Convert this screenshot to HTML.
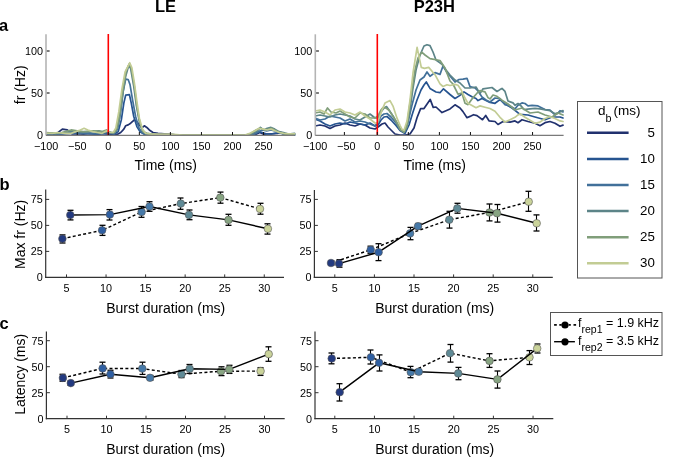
<!DOCTYPE html>
<html><head><meta charset="utf-8"><style>
html,body{margin:0;padding:0;background:#fff;width:685px;height:457px;overflow:hidden}
svg{display:block;will-change:transform}
text{font-family:"Liberation Sans",sans-serif}
</style></head><body>
<svg width="685" height="457" viewBox="0 0 685 457">
<rect width="685" height="457" fill="#fff"/>
<text x="165.50" y="11.80" font-size="16.5" text-anchor="middle" font-weight="bold" fill="#000" >LE</text>
<text x="434.30" y="11.80" font-size="16.5" text-anchor="middle" font-weight="bold" fill="#000" >P23H</text>
<text x="-1.00" y="31.00" font-size="16.5" text-anchor="start" font-weight="bold" fill="#000" >a</text>
<text x="-0.50" y="189.50" font-size="16.5" text-anchor="start" font-weight="bold" fill="#000" >b</text>
<text x="-0.50" y="329.00" font-size="16.5" text-anchor="start" font-weight="bold" fill="#000" >c</text>
<clipPath id="ca1"><rect x="46" y="30" width="250" height="106"/></clipPath>
<clipPath id="ca2"><rect x="315" y="30" width="249" height="106"/></clipPath>
<g clip-path="url(#ca1)">
<polyline points="46.20,134.16 52.41,134.16 56.14,133.99 62.35,129.12 67.31,129.96 72.28,133.99 77.25,133.74 83.46,134.16 89.67,133.32 95.88,134.16 102.09,133.32 108.30,134.16 114.51,135.00 117.61,134.16 120.72,132.48 123.83,129.12 125.69,125.76 128.17,124.92 130.66,123.24 134.38,119.88 137.49,122.40 140.59,126.60 142.45,127.44 144.32,125.76 146.80,127.44 149.29,129.96 153.01,132.48 157.98,133.32 164.19,133.74 170.40,134.16 176.61,135.00 232.50,135.00 251.13,135.00 256.10,134.16 259.82,132.48 263.55,134.16 268.52,134.16 272.87,133.74 277.21,133.32 280.94,132.48 284.66,134.16 294.60,135.00" fill="none" stroke="#21316e" stroke-width="1.7" stroke-linejoin="round" stroke-linecap="round" />
<polyline points="46.20,134.16 58.62,134.16 71.04,133.32 83.46,133.32 95.88,134.16 108.30,133.32 114.51,134.16 118.24,131.64 121.34,119.88 123.83,103.08 125.69,95.10 129.41,94.68 131.28,103.08 133.76,116.52 136.87,126.60 139.97,131.64 144.32,134.16 148.66,134.16 154.88,135.00 232.50,135.00 251.13,135.00 254.86,133.32 259.20,131.64 262.31,132.48 266.65,134.16 271.00,134.16 274.73,133.32 279.07,132.48 283.42,133.32 288.39,135.00 294.60,135.00" fill="none" stroke="#265490" stroke-width="1.7" stroke-linejoin="round" stroke-linecap="round" />
<polyline points="46.20,133.32 58.62,134.16 71.04,132.48 83.46,133.32 95.88,133.32 108.30,132.48 114.51,133.32 117.61,129.12 120.72,111.48 123.20,91.32 125.69,79.14 128.17,79.56 130.03,84.60 132.52,99.72 135.62,116.52 138.73,127.44 141.83,132.48 145.56,134.16 151.77,135.00 232.50,135.00 248.02,135.00 254.24,134.16 258.58,131.64 262.31,129.96 266.65,130.80 271.00,129.96 274.73,130.80 279.07,132.48 283.42,134.16 294.60,134.16" fill="none" stroke="#41709a" stroke-width="1.7" stroke-linejoin="round" stroke-linecap="round" />
<polyline points="46.20,133.32 55.52,133.32 64.83,132.48 74.14,130.80 80.35,132.48 89.67,131.64 98.98,130.80 105.19,132.48 108.30,131.64 113.27,133.32 116.37,130.80 119.48,118.20 122.58,94.68 125.69,76.20 128.79,65.28 130.66,68.64 133.76,86.28 136.25,104.76 139.35,121.56 142.45,130.80 145.56,133.32 151.77,134.16 157.98,135.00 232.50,135.00 248.02,135.00 252.99,133.32 257.34,130.80 260.44,127.44 263.55,129.96 267.28,128.28 271.00,127.44 274.73,129.12 279.07,131.64 283.42,132.48 288.39,134.16 294.60,133.32" fill="none" stroke="#5c8488" stroke-width="1.7" stroke-linejoin="round" stroke-linecap="round" />
<polyline points="46.20,132.48 55.52,133.32 61.72,132.48 71.04,129.96 77.25,130.80 83.46,131.64 92.77,130.80 102.09,131.64 106.44,129.96 110.16,132.48 114.51,132.48 116.99,128.28 120.10,111.48 123.20,87.96 126.31,70.32 129.41,63.60 131.28,68.64 134.38,86.28 136.87,106.44 139.97,123.24 143.08,131.64 146.80,133.32 153.01,134.16 161.08,135.00 232.50,135.00 246.16,135.00 251.13,133.32 256.10,129.96 259.82,128.28 264.79,129.96 268.52,129.12 271.62,128.28 275.97,130.80 280.32,132.48 285.28,134.16 294.60,134.16" fill="none" stroke="#809e7a" stroke-width="1.7" stroke-linejoin="round" stroke-linecap="round" />
<polyline points="46.20,133.32 52.41,133.32 57.38,132.48 64.83,133.32 71.04,133.32 76.01,131.64 80.35,129.96 84.08,128.28 87.81,129.96 92.77,131.64 97.12,132.48 102.09,133.32 105.19,131.64 107.06,130.80 109.54,132.48 113.27,132.48 115.75,128.28 118.86,111.48 121.96,88.80 125.07,72.00 129.72,62.76 131.90,67.80 134.38,82.92 136.87,101.40 139.35,118.20 142.45,129.12 145.56,133.32 151.77,134.16 161.08,134.16 170.40,134.16 182.82,135.00 232.50,135.00 244.92,135.00 249.89,133.32 254.86,130.80 259.20,128.28 263.55,129.12 267.28,129.96 271.00,129.12 274.73,130.80 279.07,132.48 283.42,133.32 288.39,133.74 294.60,133.74" fill="none" stroke="#c2cc94" stroke-width="1.7" stroke-linejoin="round" stroke-linecap="round" />
</g>
<g clip-path="url(#ca2)">
<polyline points="315.00,126.00 320.00,125.00 325.00,126.00 330.00,128.50 335.00,126.00 340.00,125.00 345.00,123.00 350.00,125.00 355.00,126.00 360.00,124.00 365.00,125.00 370.00,128.00 375.00,129.00 378.00,127.00 382.00,124.00 385.00,123.00 388.00,127.00 392.00,131.00 395.00,134.00 400.00,135.00 405.00,135.00 410.00,134.00 414.00,128.00 417.00,117.80 420.60,108.60 424.00,108.60 430.20,99.40 433.20,107.40 436.00,107.00 442.00,112.60 450.00,108.90 455.00,104.80 460.00,108.00 463.00,111.60 467.00,117.70 470.00,116.40 473.50,114.70 477.00,115.60 482.50,119.70 485.70,115.50 489.00,120.80 495.00,121.50 498.00,124.50 503.00,121.50 510.00,122.10 515.00,120.90 518.00,122.70 522.00,119.70 528.00,121.50 535.00,123.30 540.00,125.70 545.00,122.70 550.00,121.50 555.00,123.30 560.00,126.30 563.00,125.10" fill="none" stroke="#21316e" stroke-width="1.7" stroke-linejoin="round" stroke-linecap="round" />
<polyline points="315.00,119.00 320.00,121.00 325.00,124.00 330.00,126.00 335.00,124.00 340.00,123.00 345.00,124.00 350.00,122.00 355.00,123.00 360.00,124.00 365.00,125.00 370.00,123.00 375.00,126.00 378.00,125.00 381.00,120.00 384.00,117.00 387.00,116.50 391.00,120.00 396.00,125.50 400.00,130.50 405.00,133.50 409.00,125.00 413.00,112.00 417.00,100.00 421.00,90.00 424.00,85.00 426.30,82.00 430.00,88.40 436.00,92.00 440.00,92.70 443.50,88.80 450.00,94.50 455.00,98.50 460.00,95.40 464.00,91.90 468.00,94.50 472.00,96.70 476.00,98.50 478.00,100.60 482.00,98.50 490.00,102.40 495.00,103.30 500.00,99.60 505.00,104.00 512.00,108.00 520.00,114.30 528.00,115.00 535.00,117.00 545.00,119.80 552.00,117.00 560.00,117.00 563.00,118.00" fill="none" stroke="#265490" stroke-width="1.7" stroke-linejoin="round" stroke-linecap="round" />
<polyline points="315.00,118.00 320.00,120.00 325.00,119.00 330.00,116.00 335.00,117.00 340.00,118.00 345.00,121.00 350.00,119.00 355.00,122.00 360.00,121.00 365.00,122.00 370.00,124.00 375.00,126.00 378.00,122.00 381.00,116.00 384.00,114.00 387.00,113.50 391.00,117.00 396.00,123.00 400.00,129.00 404.00,132.00 408.00,122.00 412.00,105.00 416.00,90.00 420.00,80.00 424.00,77.00 427.00,72.00 430.00,76.30 435.00,72.60 440.00,74.40 443.00,66.00 447.00,72.60 450.00,76.00 455.00,82.00 459.00,79.50 463.00,79.20 467.00,78.30 470.00,86.60 475.00,88.00 478.00,91.00 482.00,97.00 486.00,100.00 490.00,102.00 495.00,98.00 500.00,98.70 505.00,104.70 510.00,105.90 515.00,108.90 518.00,105.30 522.00,102.90 525.00,103.50 528.00,105.90 532.00,105.30 538.00,105.90 545.00,109.50 550.00,110.10 555.00,114.90 558.00,113.10 560.00,110.70 563.00,111.90" fill="none" stroke="#41709a" stroke-width="1.7" stroke-linejoin="round" stroke-linecap="round" />
<polyline points="315.00,116.00 320.00,115.00 325.00,116.00 330.00,117.00 335.00,115.00 340.00,114.00 345.00,115.00 350.00,116.00 355.00,119.00 360.00,120.00 365.00,117.00 370.00,114.00 375.00,118.00 378.00,118.00 381.00,112.00 384.00,108.00 386.50,106.60 389.00,110.00 393.00,116.00 397.00,123.00 400.00,129.00 404.00,132.00 407.00,127.00 410.00,110.00 413.00,88.00 416.00,70.00 420.00,55.00 424.00,46.00 427.00,44.70 430.00,45.60 433.00,52.00 436.00,60.00 442.00,64.20 446.00,70.00 450.00,75.00 455.00,80.00 460.00,83.00 465.00,88.00 470.00,88.00 476.00,87.00 480.00,93.60 483.00,88.80 492.00,87.50 497.00,91.50 500.00,89.60 502.00,88.40 505.00,91.40 508.00,101.00 513.00,102.90 515.00,105.30 518.00,103.50 521.00,105.90 524.00,109.50 530.00,108.90 535.00,108.30 540.00,108.90 550.00,110.70 555.00,113.70 560.00,112.00 563.00,110.60" fill="none" stroke="#5c8488" stroke-width="1.7" stroke-linejoin="round" stroke-linecap="round" />
<polyline points="315.00,113.00 320.00,112.00 324.00,114.00 327.50,108.00 331.00,112.00 336.00,113.00 340.00,111.00 345.00,114.00 350.00,117.00 355.00,118.00 360.00,113.00 365.00,114.00 370.00,118.00 375.00,118.00 378.00,116.00 381.00,110.00 383.00,107.60 386.00,108.00 389.00,110.20 393.00,116.20 397.00,123.20 400.00,129.30 404.00,132.30 407.00,126.00 409.00,110.00 412.00,90.00 415.00,70.00 418.00,58.00 421.70,52.20 425.00,55.00 430.00,58.60 440.00,60.50 445.00,68.00 450.00,81.00 453.00,84.00 458.00,94.10 462.00,93.20 465.00,103.30 468.00,104.60 472.00,98.90 477.00,93.20 480.00,90.60 485.00,91.90 488.00,97.60 490.00,98.90 493.00,95.00 497.00,96.30 502.00,100.20 508.00,104.00 515.00,110.00 522.00,108.00 530.00,113.00 538.00,112.00 545.00,115.00 552.00,117.00 558.00,113.00 563.00,115.00" fill="none" stroke="#809e7a" stroke-width="1.7" stroke-linejoin="round" stroke-linecap="round" />
<polyline points="315.00,111.00 320.00,110.00 325.00,112.00 330.00,115.00 335.00,110.00 340.00,109.00 345.00,112.00 350.00,113.00 355.00,115.00 360.00,112.00 365.00,116.00 370.00,119.00 375.00,123.00 377.30,123.20 382.00,110.20 385.00,103.10 390.00,100.60 393.00,106.10 397.00,118.20 400.00,125.30 402.00,129.30 404.00,130.30 407.00,121.00 410.00,100.00 413.00,73.00 417.10,47.40 421.30,67.40 424.50,68.40 428.70,67.40 435.00,74.70 440.00,83.80 443.00,86.50 447.00,84.70 450.00,85.50 455.00,84.40 458.00,85.30 461.00,89.70 465.00,98.00 468.00,103.30 472.00,105.50 476.00,107.70 480.00,105.90 485.00,107.20 490.00,108.50 495.00,111.30 500.00,117.30 505.00,122.10 510.00,119.70 515.00,117.30 518.00,114.90 520.00,113.70 525.00,117.30 530.00,120.30 535.00,123.30 540.00,122.10 545.00,118.50 550.00,116.70 555.00,118.50 560.00,120.90 563.00,121.50" fill="none" stroke="#c2cc94" stroke-width="1.7" stroke-linejoin="round" stroke-linecap="round" />
</g>
<line x1="108.30" y1="34.00" x2="108.30" y2="135.00" stroke="#ff0000" stroke-width="1.6" />
<line x1="377.30" y1="34.00" x2="377.30" y2="135.00" stroke="#ff0000" stroke-width="1.6" />
<line x1="46.00" y1="34.30" x2="46.00" y2="135.50" stroke="#b4b4b4" stroke-width="1.6" />
<line x1="46.00" y1="135.30" x2="294.80" y2="135.30" stroke="#7a7a7a" stroke-width="1.2" />
<text x="43.00" y="138.80" font-size="10.8" text-anchor="end" font-weight="normal" fill="#000" >0</text>
<line x1="46.80" y1="93.00" x2="49.60" y2="93.00" stroke="#222" stroke-width="1.2" />
<text x="43.00" y="96.80" font-size="10.8" text-anchor="end" font-weight="normal" fill="#000" >50</text>
<line x1="46.80" y1="51.00" x2="49.60" y2="51.00" stroke="#222" stroke-width="1.2" />
<text x="43.00" y="54.80" font-size="10.8" text-anchor="end" font-weight="normal" fill="#000" >100</text>
<text x="46.20" y="150.00" font-size="10.8" text-anchor="middle" font-weight="normal" fill="#000" >−100</text>
<line x1="77.25" y1="135.00" x2="77.25" y2="132.00" stroke="#111" stroke-width="1" />
<text x="77.25" y="150.00" font-size="10.8" text-anchor="middle" font-weight="normal" fill="#000" >−50</text>
<line x1="108.30" y1="135.00" x2="108.30" y2="132.00" stroke="#111" stroke-width="1" />
<text x="108.30" y="150.00" font-size="10.8" text-anchor="middle" font-weight="normal" fill="#000" >0</text>
<line x1="139.35" y1="135.00" x2="139.35" y2="132.00" stroke="#111" stroke-width="1" />
<text x="139.35" y="150.00" font-size="10.8" text-anchor="middle" font-weight="normal" fill="#000" >50</text>
<line x1="170.40" y1="135.00" x2="170.40" y2="132.00" stroke="#111" stroke-width="1" />
<text x="170.40" y="150.00" font-size="10.8" text-anchor="middle" font-weight="normal" fill="#000" >100</text>
<line x1="201.45" y1="135.00" x2="201.45" y2="132.00" stroke="#111" stroke-width="1" />
<text x="201.45" y="150.00" font-size="10.8" text-anchor="middle" font-weight="normal" fill="#000" >150</text>
<line x1="232.50" y1="135.00" x2="232.50" y2="132.00" stroke="#111" stroke-width="1" />
<text x="232.50" y="150.00" font-size="10.8" text-anchor="middle" font-weight="normal" fill="#000" >200</text>
<line x1="263.55" y1="135.00" x2="263.55" y2="132.00" stroke="#111" stroke-width="1" />
<text x="263.55" y="150.00" font-size="10.8" text-anchor="middle" font-weight="normal" fill="#000" >250</text>
<text x="165.80" y="169.80" font-size="14" text-anchor="middle" font-weight="normal" fill="#000" >Time (ms)</text>
<line x1="315.30" y1="34.30" x2="315.30" y2="135.50" stroke="#b4b4b4" stroke-width="1.6" />
<line x1="315.30" y1="135.30" x2="563.60" y2="135.30" stroke="#7a7a7a" stroke-width="1.2" />
<text x="312.30" y="138.80" font-size="10.8" text-anchor="end" font-weight="normal" fill="#000" >0</text>
<line x1="316.10" y1="93.00" x2="318.90" y2="93.00" stroke="#222" stroke-width="1.2" />
<text x="312.30" y="96.80" font-size="10.8" text-anchor="end" font-weight="normal" fill="#000" >50</text>
<line x1="316.10" y1="51.00" x2="318.90" y2="51.00" stroke="#222" stroke-width="1.2" />
<text x="312.30" y="54.80" font-size="10.8" text-anchor="end" font-weight="normal" fill="#000" >100</text>
<text x="315.20" y="150.00" font-size="10.8" text-anchor="middle" font-weight="normal" fill="#000" >−100</text>
<line x1="344.40" y1="135.00" x2="344.40" y2="132.00" stroke="#111" stroke-width="1" />
<text x="346.25" y="150.00" font-size="10.8" text-anchor="middle" font-weight="normal" fill="#000" >−50</text>
<line x1="377.30" y1="135.00" x2="377.30" y2="132.00" stroke="#111" stroke-width="1" />
<text x="377.30" y="150.00" font-size="10.8" text-anchor="middle" font-weight="normal" fill="#000" >0</text>
<line x1="408.35" y1="135.00" x2="408.35" y2="132.00" stroke="#111" stroke-width="1" />
<text x="408.35" y="150.00" font-size="10.8" text-anchor="middle" font-weight="normal" fill="#000" >50</text>
<line x1="439.40" y1="135.00" x2="439.40" y2="132.00" stroke="#111" stroke-width="1" />
<text x="439.40" y="150.00" font-size="10.8" text-anchor="middle" font-weight="normal" fill="#000" >100</text>
<line x1="470.45" y1="135.00" x2="470.45" y2="132.00" stroke="#111" stroke-width="1" />
<text x="470.45" y="150.00" font-size="10.8" text-anchor="middle" font-weight="normal" fill="#000" >150</text>
<line x1="501.50" y1="135.00" x2="501.50" y2="132.00" stroke="#111" stroke-width="1" />
<text x="501.50" y="150.00" font-size="10.8" text-anchor="middle" font-weight="normal" fill="#000" >200</text>
<line x1="532.55" y1="135.00" x2="532.55" y2="132.00" stroke="#111" stroke-width="1" />
<text x="532.55" y="150.00" font-size="10.8" text-anchor="middle" font-weight="normal" fill="#000" >250</text>
<text x="434.70" y="169.80" font-size="14" text-anchor="middle" font-weight="normal" fill="#000" >Time (ms)</text>
<text transform="translate(24.5,84.8) rotate(-90)" font-size="14" text-anchor="middle">fr (Hz)</text>
<rect x="577.5" y="101.5" width="84.5" height="176.5" fill="#fff" stroke="#555" stroke-width="1"/>
<text x="598" y="114.8" font-size="13.5">d<tspan dy="7.3" font-size="10.8">b</tspan></text><text x="613.5" y="114.8" font-size="13.5">(ms)</text>
<line x1="587.00" y1="132.80" x2="628.60" y2="132.80" stroke="#21316e" stroke-width="2.5" />
<text x="654.80" y="136.50" font-size="13.3" text-anchor="end" font-weight="normal" fill="#000" >5</text>
<line x1="587.00" y1="158.90" x2="628.60" y2="158.90" stroke="#265490" stroke-width="2.5" />
<text x="654.80" y="162.60" font-size="13.3" text-anchor="end" font-weight="normal" fill="#000" >10</text>
<line x1="587.00" y1="185.00" x2="628.60" y2="185.00" stroke="#41709a" stroke-width="2.5" />
<text x="654.80" y="188.70" font-size="13.3" text-anchor="end" font-weight="normal" fill="#000" >15</text>
<line x1="587.00" y1="211.10" x2="628.60" y2="211.10" stroke="#5c8488" stroke-width="2.5" />
<text x="654.80" y="214.80" font-size="13.3" text-anchor="end" font-weight="normal" fill="#000" >20</text>
<line x1="587.00" y1="237.20" x2="628.60" y2="237.20" stroke="#809e7a" stroke-width="2.5" />
<text x="654.80" y="240.90" font-size="13.3" text-anchor="end" font-weight="normal" fill="#000" >25</text>
<line x1="587.00" y1="263.30" x2="628.60" y2="263.30" stroke="#c2cc94" stroke-width="2.5" />
<text x="654.80" y="267.00" font-size="13.3" text-anchor="end" font-weight="normal" fill="#000" >30</text>
<line x1="45.70" y1="189.60" x2="45.70" y2="278.00" stroke="#333" stroke-width="1.2" />
<line x1="45.10" y1="277.40" x2="284.00" y2="277.40" stroke="#333" stroke-width="1.2" />
<text x="42.70" y="281.20" font-size="10.8" text-anchor="end" font-weight="normal" fill="#000" >0</text>
<line x1="45.70" y1="251.40" x2="49.20" y2="251.40" stroke="#333" stroke-width="1" />
<text x="42.70" y="255.20" font-size="10.8" text-anchor="end" font-weight="normal" fill="#000" >25</text>
<line x1="45.70" y1="225.40" x2="49.20" y2="225.40" stroke="#333" stroke-width="1" />
<text x="42.70" y="229.20" font-size="10.8" text-anchor="end" font-weight="normal" fill="#000" >50</text>
<line x1="45.70" y1="199.40" x2="49.20" y2="199.40" stroke="#333" stroke-width="1" />
<text x="42.70" y="203.20" font-size="10.8" text-anchor="end" font-weight="normal" fill="#000" >75</text>
<line x1="66.50" y1="277.40" x2="66.50" y2="274.40" stroke="#333" stroke-width="1" />
<text x="66.50" y="292.00" font-size="10.8" text-anchor="middle" font-weight="normal" fill="#000" >5</text>
<line x1="106.05" y1="277.40" x2="106.05" y2="274.40" stroke="#333" stroke-width="1" />
<text x="106.05" y="292.00" font-size="10.8" text-anchor="middle" font-weight="normal" fill="#000" >10</text>
<line x1="145.60" y1="277.40" x2="145.60" y2="274.40" stroke="#333" stroke-width="1" />
<text x="145.60" y="292.00" font-size="10.8" text-anchor="middle" font-weight="normal" fill="#000" >15</text>
<line x1="185.15" y1="277.40" x2="185.15" y2="274.40" stroke="#333" stroke-width="1" />
<text x="185.15" y="292.00" font-size="10.8" text-anchor="middle" font-weight="normal" fill="#000" >20</text>
<line x1="224.70" y1="277.40" x2="224.70" y2="274.40" stroke="#333" stroke-width="1" />
<text x="224.70" y="292.00" font-size="10.8" text-anchor="middle" font-weight="normal" fill="#000" >25</text>
<line x1="264.25" y1="277.40" x2="264.25" y2="274.40" stroke="#333" stroke-width="1" />
<text x="264.25" y="292.00" font-size="10.8" text-anchor="middle" font-weight="normal" fill="#000" >30</text>
<text x="165.70" y="313.00" font-size="14" text-anchor="middle" font-weight="normal" fill="#000" >Burst duration (ms)</text>
<polyline points="62.40,238.70 102.10,230.30 141.60,212.00 180.80,203.60 220.30,197.60 260.00,208.90" fill="none" stroke="#000" stroke-width="1.45" stroke-linejoin="round" stroke-linecap="butt" stroke-dasharray="3,2.3"/>
<line x1="62.50" y1="234.90" x2="62.50" y2="243.00" stroke="#000" stroke-width="1.1" />
<line x1="59.50" y1="234.90" x2="65.50" y2="234.90" stroke="#000" stroke-width="1.3" />
<line x1="59.50" y1="243.00" x2="65.50" y2="243.00" stroke="#000" stroke-width="1.3" />
<circle cx="62.40" cy="238.70" r="3.8" fill="#233a80" stroke="#555" stroke-width="0.6"/>
<line x1="102.50" y1="225.30" x2="102.50" y2="235.40" stroke="#000" stroke-width="1.1" />
<line x1="99.50" y1="225.30" x2="105.50" y2="225.30" stroke="#000" stroke-width="1.3" />
<line x1="99.50" y1="235.40" x2="105.50" y2="235.40" stroke="#000" stroke-width="1.3" />
<circle cx="102.10" cy="230.30" r="3.8" fill="#2f5fa2" stroke="#555" stroke-width="0.6"/>
<line x1="141.50" y1="206.50" x2="141.50" y2="217.30" stroke="#000" stroke-width="1.1" />
<line x1="138.50" y1="206.50" x2="144.50" y2="206.50" stroke="#000" stroke-width="1.3" />
<line x1="138.50" y1="217.30" x2="144.50" y2="217.30" stroke="#000" stroke-width="1.3" />
<circle cx="141.60" cy="212.00" r="3.8" fill="#4679a8" stroke="#555" stroke-width="0.6"/>
<line x1="180.50" y1="198.00" x2="180.50" y2="209.30" stroke="#000" stroke-width="1.1" />
<line x1="177.50" y1="198.00" x2="183.50" y2="198.00" stroke="#000" stroke-width="1.3" />
<line x1="177.50" y1="209.30" x2="183.50" y2="209.30" stroke="#000" stroke-width="1.3" />
<circle cx="180.80" cy="203.60" r="3.8" fill="#5f8a96" stroke="#555" stroke-width="0.6"/>
<line x1="220.50" y1="192.10" x2="220.50" y2="203.20" stroke="#000" stroke-width="1.1" />
<line x1="217.50" y1="192.10" x2="223.50" y2="192.10" stroke="#000" stroke-width="1.3" />
<line x1="217.50" y1="203.20" x2="223.50" y2="203.20" stroke="#000" stroke-width="1.3" />
<circle cx="220.30" cy="197.60" r="3.8" fill="#87a482" stroke="#555" stroke-width="0.6"/>
<line x1="260.50" y1="203.30" x2="260.50" y2="214.20" stroke="#000" stroke-width="1.1" />
<line x1="257.50" y1="203.30" x2="263.50" y2="203.30" stroke="#000" stroke-width="1.3" />
<line x1="257.50" y1="214.20" x2="263.50" y2="214.20" stroke="#000" stroke-width="1.3" />
<circle cx="260.00" cy="208.90" r="3.8" fill="#cad39a" stroke="#555" stroke-width="0.6"/>
<polyline points="70.30,215.00 109.90,214.60 149.50,206.50 189.00,214.90 228.50,219.90 267.90,228.80" fill="none" stroke="#000" stroke-width="1.45" stroke-linejoin="round" stroke-linecap="round" />
<line x1="70.50" y1="210.30" x2="70.50" y2="219.90" stroke="#000" stroke-width="1.1" />
<line x1="67.50" y1="210.30" x2="73.50" y2="210.30" stroke="#000" stroke-width="1.3" />
<line x1="67.50" y1="219.90" x2="73.50" y2="219.90" stroke="#000" stroke-width="1.3" />
<circle cx="70.30" cy="215.00" r="3.8" fill="#233a80" stroke="#555" stroke-width="0.6"/>
<line x1="109.50" y1="209.60" x2="109.50" y2="220.00" stroke="#000" stroke-width="1.1" />
<line x1="106.50" y1="209.60" x2="112.50" y2="209.60" stroke="#000" stroke-width="1.3" />
<line x1="106.50" y1="220.00" x2="112.50" y2="220.00" stroke="#000" stroke-width="1.3" />
<circle cx="109.90" cy="214.60" r="3.8" fill="#2f5fa2" stroke="#555" stroke-width="0.6"/>
<line x1="149.50" y1="201.70" x2="149.50" y2="211.30" stroke="#000" stroke-width="1.1" />
<line x1="146.50" y1="201.70" x2="152.50" y2="201.70" stroke="#000" stroke-width="1.3" />
<line x1="146.50" y1="211.30" x2="152.50" y2="211.30" stroke="#000" stroke-width="1.3" />
<circle cx="149.50" cy="206.50" r="3.8" fill="#4679a8" stroke="#555" stroke-width="0.6"/>
<line x1="189.50" y1="210.00" x2="189.50" y2="219.70" stroke="#000" stroke-width="1.1" />
<line x1="186.50" y1="210.00" x2="192.50" y2="210.00" stroke="#000" stroke-width="1.3" />
<line x1="186.50" y1="219.70" x2="192.50" y2="219.70" stroke="#000" stroke-width="1.3" />
<circle cx="189.00" cy="214.90" r="3.8" fill="#5f8a96" stroke="#555" stroke-width="0.6"/>
<line x1="228.50" y1="214.30" x2="228.50" y2="225.30" stroke="#000" stroke-width="1.1" />
<line x1="225.50" y1="214.30" x2="231.50" y2="214.30" stroke="#000" stroke-width="1.3" />
<line x1="225.50" y1="225.30" x2="231.50" y2="225.30" stroke="#000" stroke-width="1.3" />
<circle cx="228.50" cy="219.90" r="3.8" fill="#87a482" stroke="#555" stroke-width="0.6"/>
<line x1="267.50" y1="223.80" x2="267.50" y2="234.10" stroke="#000" stroke-width="1.1" />
<line x1="264.50" y1="223.80" x2="270.50" y2="223.80" stroke="#000" stroke-width="1.3" />
<line x1="264.50" y1="234.10" x2="270.50" y2="234.10" stroke="#000" stroke-width="1.3" />
<circle cx="267.90" cy="228.80" r="3.8" fill="#cad39a" stroke="#555" stroke-width="0.6"/>
<line x1="314.40" y1="190.00" x2="314.40" y2="278.00" stroke="#333" stroke-width="1.2" />
<line x1="313.80" y1="277.40" x2="552.80" y2="277.40" stroke="#333" stroke-width="1.2" />
<text x="311.40" y="281.20" font-size="10.8" text-anchor="end" font-weight="normal" fill="#000" >0</text>
<line x1="314.40" y1="251.40" x2="317.90" y2="251.40" stroke="#333" stroke-width="1" />
<text x="311.40" y="255.20" font-size="10.8" text-anchor="end" font-weight="normal" fill="#000" >25</text>
<line x1="314.40" y1="225.40" x2="317.90" y2="225.40" stroke="#333" stroke-width="1" />
<text x="311.40" y="229.20" font-size="10.8" text-anchor="end" font-weight="normal" fill="#000" >50</text>
<line x1="314.40" y1="199.40" x2="317.90" y2="199.40" stroke="#333" stroke-width="1" />
<text x="311.40" y="203.20" font-size="10.8" text-anchor="end" font-weight="normal" fill="#000" >75</text>
<line x1="334.80" y1="277.40" x2="334.80" y2="274.40" stroke="#333" stroke-width="1" />
<text x="334.80" y="292.00" font-size="10.8" text-anchor="middle" font-weight="normal" fill="#000" >5</text>
<line x1="374.40" y1="277.40" x2="374.40" y2="274.40" stroke="#333" stroke-width="1" />
<text x="374.40" y="292.00" font-size="10.8" text-anchor="middle" font-weight="normal" fill="#000" >10</text>
<line x1="414.00" y1="277.40" x2="414.00" y2="274.40" stroke="#333" stroke-width="1" />
<text x="414.00" y="292.00" font-size="10.8" text-anchor="middle" font-weight="normal" fill="#000" >15</text>
<line x1="453.60" y1="277.40" x2="453.60" y2="274.40" stroke="#333" stroke-width="1" />
<text x="453.60" y="292.00" font-size="10.8" text-anchor="middle" font-weight="normal" fill="#000" >20</text>
<line x1="493.20" y1="277.40" x2="493.20" y2="274.40" stroke="#333" stroke-width="1" />
<text x="493.20" y="292.00" font-size="10.8" text-anchor="middle" font-weight="normal" fill="#000" >25</text>
<line x1="532.80" y1="277.40" x2="532.80" y2="274.40" stroke="#333" stroke-width="1" />
<text x="532.80" y="292.00" font-size="10.8" text-anchor="middle" font-weight="normal" fill="#000" >30</text>
<text x="434.70" y="313.00" font-size="14" text-anchor="middle" font-weight="normal" fill="#000" >Burst duration (ms)</text>
<polyline points="331.00,263.00 370.70,249.80 410.10,233.40 449.30,219.70 489.50,212.50 528.70,201.70" fill="none" stroke="#000" stroke-width="1.45" stroke-linejoin="round" stroke-linecap="butt" stroke-dasharray="3,2.3"/>
<line x1="331.50" y1="261.00" x2="331.50" y2="265.00" stroke="#000" stroke-width="1.1" />
<line x1="328.50" y1="261.00" x2="334.50" y2="261.00" stroke="#000" stroke-width="1.3" />
<line x1="328.50" y1="265.00" x2="334.50" y2="265.00" stroke="#000" stroke-width="1.3" />
<circle cx="331.00" cy="263.00" r="3.8" fill="#233a80" stroke="#555" stroke-width="0.6"/>
<line x1="370.50" y1="246.20" x2="370.50" y2="253.40" stroke="#000" stroke-width="1.1" />
<line x1="367.50" y1="246.20" x2="373.50" y2="246.20" stroke="#000" stroke-width="1.3" />
<line x1="367.50" y1="253.40" x2="373.50" y2="253.40" stroke="#000" stroke-width="1.3" />
<circle cx="370.70" cy="249.80" r="3.8" fill="#2f5fa2" stroke="#555" stroke-width="0.6"/>
<line x1="410.50" y1="227.40" x2="410.50" y2="239.70" stroke="#000" stroke-width="1.1" />
<line x1="407.50" y1="227.40" x2="413.50" y2="227.40" stroke="#000" stroke-width="1.3" />
<line x1="407.50" y1="239.70" x2="413.50" y2="239.70" stroke="#000" stroke-width="1.3" />
<circle cx="410.10" cy="233.40" r="3.8" fill="#4679a8" stroke="#555" stroke-width="0.6"/>
<line x1="449.50" y1="211.30" x2="449.50" y2="228.10" stroke="#000" stroke-width="1.1" />
<line x1="446.50" y1="211.30" x2="452.50" y2="211.30" stroke="#000" stroke-width="1.3" />
<line x1="446.50" y1="228.10" x2="452.50" y2="228.10" stroke="#000" stroke-width="1.3" />
<circle cx="449.30" cy="219.70" r="3.8" fill="#5f8a96" stroke="#555" stroke-width="0.6"/>
<line x1="489.50" y1="204.00" x2="489.50" y2="220.90" stroke="#000" stroke-width="1.1" />
<line x1="486.50" y1="204.00" x2="492.50" y2="204.00" stroke="#000" stroke-width="1.3" />
<line x1="486.50" y1="220.90" x2="492.50" y2="220.90" stroke="#000" stroke-width="1.3" />
<circle cx="489.50" cy="212.50" r="3.8" fill="#87a482" stroke="#555" stroke-width="0.6"/>
<line x1="528.50" y1="191.30" x2="528.50" y2="211.30" stroke="#000" stroke-width="1.1" />
<line x1="525.50" y1="191.30" x2="531.50" y2="191.30" stroke="#000" stroke-width="1.3" />
<line x1="525.50" y1="211.30" x2="531.50" y2="211.30" stroke="#000" stroke-width="1.3" />
<circle cx="528.70" cy="201.70" r="3.8" fill="#cad39a" stroke="#555" stroke-width="0.6"/>
<polyline points="339.00,263.60 378.60,252.20 418.00,226.20 457.30,208.40 497.00,213.20 536.70,223.30" fill="none" stroke="#000" stroke-width="1.45" stroke-linejoin="round" stroke-linecap="round" />
<line x1="339.50" y1="259.70" x2="339.50" y2="267.20" stroke="#000" stroke-width="1.1" />
<line x1="336.50" y1="259.70" x2="342.50" y2="259.70" stroke="#000" stroke-width="1.3" />
<line x1="336.50" y1="267.20" x2="342.50" y2="267.20" stroke="#000" stroke-width="1.3" />
<circle cx="339.00" cy="263.60" r="3.8" fill="#233a80" stroke="#555" stroke-width="0.6"/>
<line x1="378.50" y1="243.70" x2="378.50" y2="260.60" stroke="#000" stroke-width="1.1" />
<line x1="375.50" y1="243.70" x2="381.50" y2="243.70" stroke="#000" stroke-width="1.3" />
<line x1="375.50" y1="260.60" x2="381.50" y2="260.60" stroke="#000" stroke-width="1.3" />
<circle cx="378.60" cy="252.20" r="3.8" fill="#2f5fa2" stroke="#555" stroke-width="0.6"/>
<line x1="418.50" y1="223.50" x2="418.50" y2="229.00" stroke="#000" stroke-width="1.1" />
<line x1="415.50" y1="223.50" x2="421.50" y2="223.50" stroke="#000" stroke-width="1.3" />
<line x1="415.50" y1="229.00" x2="421.50" y2="229.00" stroke="#000" stroke-width="1.3" />
<circle cx="418.00" cy="226.20" r="3.8" fill="#4679a8" stroke="#555" stroke-width="0.6"/>
<line x1="457.50" y1="203.30" x2="457.50" y2="213.20" stroke="#000" stroke-width="1.1" />
<line x1="454.50" y1="203.30" x2="460.50" y2="203.30" stroke="#000" stroke-width="1.3" />
<line x1="454.50" y1="213.20" x2="460.50" y2="213.20" stroke="#000" stroke-width="1.3" />
<circle cx="457.30" cy="208.40" r="3.8" fill="#5f8a96" stroke="#555" stroke-width="0.6"/>
<line x1="497.50" y1="204.50" x2="497.50" y2="222.10" stroke="#000" stroke-width="1.1" />
<line x1="494.50" y1="204.50" x2="500.50" y2="204.50" stroke="#000" stroke-width="1.3" />
<line x1="494.50" y1="222.10" x2="500.50" y2="222.10" stroke="#000" stroke-width="1.3" />
<circle cx="497.00" cy="213.20" r="3.8" fill="#87a482" stroke="#555" stroke-width="0.6"/>
<line x1="536.50" y1="214.90" x2="536.50" y2="231.00" stroke="#000" stroke-width="1.1" />
<line x1="533.50" y1="214.90" x2="539.50" y2="214.90" stroke="#000" stroke-width="1.3" />
<line x1="533.50" y1="231.00" x2="539.50" y2="231.00" stroke="#000" stroke-width="1.3" />
<circle cx="536.70" cy="223.30" r="3.8" fill="#cad39a" stroke="#555" stroke-width="0.6"/>
<line x1="46.40" y1="331.60" x2="46.40" y2="419.30" stroke="#333" stroke-width="1.2" />
<line x1="45.80" y1="418.70" x2="284.70" y2="418.70" stroke="#333" stroke-width="1.2" />
<text x="43.40" y="422.50" font-size="10.8" text-anchor="end" font-weight="normal" fill="#000" >0</text>
<line x1="46.40" y1="392.70" x2="49.90" y2="392.70" stroke="#333" stroke-width="1" />
<text x="43.40" y="396.50" font-size="10.8" text-anchor="end" font-weight="normal" fill="#000" >25</text>
<line x1="46.40" y1="366.70" x2="49.90" y2="366.70" stroke="#333" stroke-width="1" />
<text x="43.40" y="370.50" font-size="10.8" text-anchor="end" font-weight="normal" fill="#000" >50</text>
<line x1="46.40" y1="340.70" x2="49.90" y2="340.70" stroke="#333" stroke-width="1" />
<text x="43.40" y="344.50" font-size="10.8" text-anchor="end" font-weight="normal" fill="#000" >75</text>
<line x1="67.00" y1="418.70" x2="67.00" y2="415.70" stroke="#333" stroke-width="1" />
<text x="67.00" y="433.30" font-size="10.8" text-anchor="middle" font-weight="normal" fill="#000" >5</text>
<line x1="106.50" y1="418.70" x2="106.50" y2="415.70" stroke="#333" stroke-width="1" />
<text x="106.50" y="433.30" font-size="10.8" text-anchor="middle" font-weight="normal" fill="#000" >10</text>
<line x1="146.00" y1="418.70" x2="146.00" y2="415.70" stroke="#333" stroke-width="1" />
<text x="146.00" y="433.30" font-size="10.8" text-anchor="middle" font-weight="normal" fill="#000" >15</text>
<line x1="185.50" y1="418.70" x2="185.50" y2="415.70" stroke="#333" stroke-width="1" />
<text x="185.50" y="433.30" font-size="10.8" text-anchor="middle" font-weight="normal" fill="#000" >20</text>
<line x1="225.00" y1="418.70" x2="225.00" y2="415.70" stroke="#333" stroke-width="1" />
<text x="225.00" y="433.30" font-size="10.8" text-anchor="middle" font-weight="normal" fill="#000" >25</text>
<line x1="264.50" y1="418.70" x2="264.50" y2="415.70" stroke="#333" stroke-width="1" />
<text x="264.50" y="433.30" font-size="10.8" text-anchor="middle" font-weight="normal" fill="#000" >30</text>
<text x="165.70" y="454.00" font-size="14" text-anchor="middle" font-weight="normal" fill="#000" >Burst duration (ms)</text>
<polyline points="62.90,377.90 102.60,368.40 142.30,368.60 181.50,374.20 221.00,371.20 260.60,371.10" fill="none" stroke="#000" stroke-width="1.45" stroke-linejoin="round" stroke-linecap="butt" stroke-dasharray="3,2.3"/>
<line x1="62.50" y1="374.30" x2="62.50" y2="381.20" stroke="#000" stroke-width="1.1" />
<line x1="59.50" y1="374.30" x2="65.50" y2="374.30" stroke="#000" stroke-width="1.3" />
<line x1="59.50" y1="381.20" x2="65.50" y2="381.20" stroke="#000" stroke-width="1.3" />
<circle cx="62.90" cy="377.90" r="3.8" fill="#233a80" stroke="#555" stroke-width="0.6"/>
<line x1="102.50" y1="362.20" x2="102.50" y2="374.00" stroke="#000" stroke-width="1.1" />
<line x1="99.50" y1="362.20" x2="105.50" y2="362.20" stroke="#000" stroke-width="1.3" />
<line x1="99.50" y1="374.00" x2="105.50" y2="374.00" stroke="#000" stroke-width="1.3" />
<circle cx="102.60" cy="368.40" r="3.8" fill="#2f5fa2" stroke="#555" stroke-width="0.6"/>
<line x1="142.50" y1="362.20" x2="142.50" y2="374.40" stroke="#000" stroke-width="1.1" />
<line x1="139.50" y1="362.20" x2="145.50" y2="362.20" stroke="#000" stroke-width="1.3" />
<line x1="139.50" y1="374.40" x2="145.50" y2="374.40" stroke="#000" stroke-width="1.3" />
<circle cx="142.30" cy="368.60" r="3.8" fill="#4679a8" stroke="#555" stroke-width="0.6"/>
<line x1="181.50" y1="370.50" x2="181.50" y2="377.60" stroke="#000" stroke-width="1.1" />
<line x1="178.50" y1="370.50" x2="184.50" y2="370.50" stroke="#000" stroke-width="1.3" />
<line x1="178.50" y1="377.60" x2="184.50" y2="377.60" stroke="#000" stroke-width="1.3" />
<circle cx="181.50" cy="374.20" r="3.8" fill="#5f8a96" stroke="#555" stroke-width="0.6"/>
<line x1="221.50" y1="366.80" x2="221.50" y2="375.60" stroke="#000" stroke-width="1.1" />
<line x1="218.50" y1="366.80" x2="224.50" y2="366.80" stroke="#000" stroke-width="1.3" />
<line x1="218.50" y1="375.60" x2="224.50" y2="375.60" stroke="#000" stroke-width="1.3" />
<circle cx="221.00" cy="371.20" r="3.8" fill="#87a482" stroke="#555" stroke-width="0.6"/>
<line x1="260.50" y1="367.60" x2="260.50" y2="375.40" stroke="#000" stroke-width="1.1" />
<line x1="257.50" y1="367.60" x2="263.50" y2="367.60" stroke="#000" stroke-width="1.3" />
<line x1="257.50" y1="375.40" x2="263.50" y2="375.40" stroke="#000" stroke-width="1.3" />
<circle cx="260.60" cy="371.10" r="3.8" fill="#cad39a" stroke="#555" stroke-width="0.6"/>
<polyline points="70.80,383.10 110.40,374.20 150.00,377.80 189.70,368.80 229.20,369.40 268.70,354.10" fill="none" stroke="#000" stroke-width="1.45" stroke-linejoin="round" stroke-linecap="round" />
<line x1="70.50" y1="381.00" x2="70.50" y2="385.20" stroke="#000" stroke-width="1.1" />
<line x1="67.50" y1="381.00" x2="73.50" y2="381.00" stroke="#000" stroke-width="1.3" />
<line x1="67.50" y1="385.20" x2="73.50" y2="385.20" stroke="#000" stroke-width="1.3" />
<circle cx="70.80" cy="383.10" r="3.8" fill="#233a80" stroke="#555" stroke-width="0.6"/>
<line x1="110.50" y1="370.30" x2="110.50" y2="378.00" stroke="#000" stroke-width="1.1" />
<line x1="107.50" y1="370.30" x2="113.50" y2="370.30" stroke="#000" stroke-width="1.3" />
<line x1="107.50" y1="378.00" x2="113.50" y2="378.00" stroke="#000" stroke-width="1.3" />
<circle cx="110.40" cy="374.20" r="3.8" fill="#2f5fa2" stroke="#555" stroke-width="0.6"/>
<line x1="150.50" y1="375.50" x2="150.50" y2="380.00" stroke="#000" stroke-width="1.1" />
<line x1="147.50" y1="375.50" x2="153.50" y2="375.50" stroke="#000" stroke-width="1.3" />
<line x1="147.50" y1="380.00" x2="153.50" y2="380.00" stroke="#000" stroke-width="1.3" />
<circle cx="150.00" cy="377.80" r="3.8" fill="#4679a8" stroke="#555" stroke-width="0.6"/>
<line x1="189.50" y1="364.50" x2="189.50" y2="373.40" stroke="#000" stroke-width="1.1" />
<line x1="186.50" y1="364.50" x2="192.50" y2="364.50" stroke="#000" stroke-width="1.3" />
<line x1="186.50" y1="373.40" x2="192.50" y2="373.40" stroke="#000" stroke-width="1.3" />
<circle cx="189.70" cy="368.80" r="3.8" fill="#5f8a96" stroke="#555" stroke-width="0.6"/>
<line x1="229.50" y1="365.30" x2="229.50" y2="373.40" stroke="#000" stroke-width="1.1" />
<line x1="226.50" y1="365.30" x2="232.50" y2="365.30" stroke="#000" stroke-width="1.3" />
<line x1="226.50" y1="373.40" x2="232.50" y2="373.40" stroke="#000" stroke-width="1.3" />
<circle cx="229.20" cy="369.40" r="3.8" fill="#87a482" stroke="#555" stroke-width="0.6"/>
<line x1="268.50" y1="346.80" x2="268.50" y2="361.30" stroke="#000" stroke-width="1.1" />
<line x1="265.50" y1="346.80" x2="271.50" y2="346.80" stroke="#000" stroke-width="1.3" />
<line x1="265.50" y1="361.30" x2="271.50" y2="361.30" stroke="#000" stroke-width="1.3" />
<circle cx="268.70" cy="354.10" r="3.8" fill="#cad39a" stroke="#555" stroke-width="0.6"/>
<line x1="315.00" y1="331.50" x2="315.00" y2="419.30" stroke="#333" stroke-width="1.2" />
<line x1="314.40" y1="418.70" x2="553.30" y2="418.70" stroke="#333" stroke-width="1.2" />
<text x="312.00" y="422.50" font-size="10.8" text-anchor="end" font-weight="normal" fill="#000" >0</text>
<line x1="315.00" y1="392.70" x2="318.50" y2="392.70" stroke="#333" stroke-width="1" />
<text x="312.00" y="396.50" font-size="10.8" text-anchor="end" font-weight="normal" fill="#000" >25</text>
<line x1="315.00" y1="366.70" x2="318.50" y2="366.70" stroke="#333" stroke-width="1" />
<text x="312.00" y="370.50" font-size="10.8" text-anchor="end" font-weight="normal" fill="#000" >50</text>
<line x1="315.00" y1="340.70" x2="318.50" y2="340.70" stroke="#333" stroke-width="1" />
<text x="312.00" y="344.50" font-size="10.8" text-anchor="end" font-weight="normal" fill="#000" >75</text>
<line x1="334.80" y1="418.70" x2="334.80" y2="415.70" stroke="#333" stroke-width="1" />
<text x="334.80" y="433.30" font-size="10.8" text-anchor="middle" font-weight="normal" fill="#000" >5</text>
<line x1="374.45" y1="418.70" x2="374.45" y2="415.70" stroke="#333" stroke-width="1" />
<text x="374.45" y="433.30" font-size="10.8" text-anchor="middle" font-weight="normal" fill="#000" >10</text>
<line x1="414.10" y1="418.70" x2="414.10" y2="415.70" stroke="#333" stroke-width="1" />
<text x="414.10" y="433.30" font-size="10.8" text-anchor="middle" font-weight="normal" fill="#000" >15</text>
<line x1="453.75" y1="418.70" x2="453.75" y2="415.70" stroke="#333" stroke-width="1" />
<text x="453.75" y="433.30" font-size="10.8" text-anchor="middle" font-weight="normal" fill="#000" >20</text>
<line x1="493.40" y1="418.70" x2="493.40" y2="415.70" stroke="#333" stroke-width="1" />
<text x="493.40" y="433.30" font-size="10.8" text-anchor="middle" font-weight="normal" fill="#000" >25</text>
<line x1="533.05" y1="418.70" x2="533.05" y2="415.70" stroke="#333" stroke-width="1" />
<text x="533.05" y="433.30" font-size="10.8" text-anchor="middle" font-weight="normal" fill="#000" >30</text>
<text x="434.70" y="454.00" font-size="14" text-anchor="middle" font-weight="normal" fill="#000" >Burst duration (ms)</text>
<polyline points="331.70,358.50 370.90,357.30 410.80,372.20 450.00,353.20 489.50,360.90 529.50,357.30" fill="none" stroke="#000" stroke-width="1.45" stroke-linejoin="round" stroke-linecap="butt" stroke-dasharray="3,2.3"/>
<line x1="331.50" y1="353.00" x2="331.50" y2="363.80" stroke="#000" stroke-width="1.1" />
<line x1="328.50" y1="353.00" x2="334.50" y2="353.00" stroke="#000" stroke-width="1.3" />
<line x1="328.50" y1="363.80" x2="334.50" y2="363.80" stroke="#000" stroke-width="1.3" />
<circle cx="331.70" cy="358.50" r="3.8" fill="#233a80" stroke="#555" stroke-width="0.6"/>
<line x1="370.50" y1="350.00" x2="370.50" y2="364.00" stroke="#000" stroke-width="1.1" />
<line x1="367.50" y1="350.00" x2="373.50" y2="350.00" stroke="#000" stroke-width="1.3" />
<line x1="367.50" y1="364.00" x2="373.50" y2="364.00" stroke="#000" stroke-width="1.3" />
<circle cx="370.90" cy="357.30" r="3.8" fill="#2f5fa2" stroke="#555" stroke-width="0.6"/>
<line x1="410.50" y1="366.40" x2="410.50" y2="377.70" stroke="#000" stroke-width="1.1" />
<line x1="407.50" y1="366.40" x2="413.50" y2="366.40" stroke="#000" stroke-width="1.3" />
<line x1="407.50" y1="377.70" x2="413.50" y2="377.70" stroke="#000" stroke-width="1.3" />
<circle cx="410.80" cy="372.20" r="3.8" fill="#4679a8" stroke="#555" stroke-width="0.6"/>
<line x1="450.50" y1="344.50" x2="450.50" y2="362.10" stroke="#000" stroke-width="1.1" />
<line x1="447.50" y1="344.50" x2="453.50" y2="344.50" stroke="#000" stroke-width="1.3" />
<line x1="447.50" y1="362.10" x2="453.50" y2="362.10" stroke="#000" stroke-width="1.3" />
<circle cx="450.00" cy="353.20" r="3.8" fill="#5f8a96" stroke="#555" stroke-width="0.6"/>
<line x1="489.50" y1="353.70" x2="489.50" y2="367.40" stroke="#000" stroke-width="1.1" />
<line x1="486.50" y1="353.70" x2="492.50" y2="353.70" stroke="#000" stroke-width="1.3" />
<line x1="486.50" y1="367.40" x2="492.50" y2="367.40" stroke="#000" stroke-width="1.3" />
<circle cx="489.50" cy="360.90" r="3.8" fill="#87a482" stroke="#555" stroke-width="0.6"/>
<line x1="529.50" y1="350.60" x2="529.50" y2="364.50" stroke="#000" stroke-width="1.1" />
<line x1="526.50" y1="350.60" x2="532.50" y2="350.60" stroke="#000" stroke-width="1.3" />
<line x1="526.50" y1="364.50" x2="532.50" y2="364.50" stroke="#000" stroke-width="1.3" />
<circle cx="529.50" cy="357.30" r="3.8" fill="#cad39a" stroke="#555" stroke-width="0.6"/>
<polyline points="339.70,392.20 379.10,362.80 418.80,371.70 458.20,373.40 497.40,379.40 537.20,348.40" fill="none" stroke="#000" stroke-width="1.45" stroke-linejoin="round" stroke-linecap="round" />
<line x1="339.50" y1="383.70" x2="339.50" y2="401.00" stroke="#000" stroke-width="1.1" />
<line x1="336.50" y1="383.70" x2="342.50" y2="383.70" stroke="#000" stroke-width="1.3" />
<line x1="336.50" y1="401.00" x2="342.50" y2="401.00" stroke="#000" stroke-width="1.3" />
<circle cx="339.70" cy="392.20" r="3.8" fill="#233a80" stroke="#555" stroke-width="0.6"/>
<line x1="379.50" y1="354.90" x2="379.50" y2="371.00" stroke="#000" stroke-width="1.1" />
<line x1="376.50" y1="354.90" x2="382.50" y2="354.90" stroke="#000" stroke-width="1.3" />
<line x1="376.50" y1="371.00" x2="382.50" y2="371.00" stroke="#000" stroke-width="1.3" />
<circle cx="379.10" cy="362.80" r="3.8" fill="#2f5fa2" stroke="#555" stroke-width="0.6"/>
<line x1="418.50" y1="369.50" x2="418.50" y2="374.00" stroke="#000" stroke-width="1.1" />
<line x1="415.50" y1="369.50" x2="421.50" y2="369.50" stroke="#000" stroke-width="1.3" />
<line x1="415.50" y1="374.00" x2="421.50" y2="374.00" stroke="#000" stroke-width="1.3" />
<circle cx="418.80" cy="371.70" r="3.8" fill="#4679a8" stroke="#555" stroke-width="0.6"/>
<line x1="458.50" y1="367.40" x2="458.50" y2="379.70" stroke="#000" stroke-width="1.1" />
<line x1="455.50" y1="367.40" x2="461.50" y2="367.40" stroke="#000" stroke-width="1.3" />
<line x1="455.50" y1="379.70" x2="461.50" y2="379.70" stroke="#000" stroke-width="1.3" />
<circle cx="458.20" cy="373.40" r="3.8" fill="#5f8a96" stroke="#555" stroke-width="0.6"/>
<line x1="497.50" y1="371.00" x2="497.50" y2="388.10" stroke="#000" stroke-width="1.1" />
<line x1="494.50" y1="371.00" x2="500.50" y2="371.00" stroke="#000" stroke-width="1.3" />
<line x1="494.50" y1="388.10" x2="500.50" y2="388.10" stroke="#000" stroke-width="1.3" />
<circle cx="497.40" cy="379.40" r="3.8" fill="#87a482" stroke="#555" stroke-width="0.6"/>
<line x1="537.50" y1="344.00" x2="537.50" y2="353.00" stroke="#000" stroke-width="1.1" />
<line x1="534.50" y1="344.00" x2="540.50" y2="344.00" stroke="#000" stroke-width="1.3" />
<line x1="534.50" y1="353.00" x2="540.50" y2="353.00" stroke="#000" stroke-width="1.3" />
<circle cx="537.20" cy="348.40" r="3.8" fill="#cad39a" stroke="#555" stroke-width="0.6"/>
<text transform="translate(24.6,234.4) rotate(-90)" font-size="14" text-anchor="middle">Max fr (Hz)</text>
<text transform="translate(24.7,374.3) rotate(-90)" font-size="14" text-anchor="middle">Latency (ms)</text>
<rect x="550.5" y="312.5" width="111.5" height="43" fill="#fff" stroke="#555" stroke-width="1"/>
<line x1="554.10" y1="324.90" x2="556.80" y2="324.90" stroke="#000" stroke-width="1.7" />
<line x1="559.30" y1="324.90" x2="561.70" y2="324.90" stroke="#000" stroke-width="1.7" />
<line x1="568.60" y1="324.90" x2="570.80" y2="324.90" stroke="#000" stroke-width="1.7" />
<line x1="573.50" y1="324.90" x2="576.10" y2="324.90" stroke="#000" stroke-width="1.7" />
<circle cx="565" cy="325" r="3.6" fill="#000"/>
<line x1="554.10" y1="341.70" x2="574.90" y2="341.70" stroke="#000" stroke-width="1.4" />
<circle cx="565" cy="341.8" r="3.6" fill="#000"/>
<text x="578" y="327.2" font-size="12.5">f<tspan dy="6" font-size="10.5">rep1</tspan><tspan dy="-6"> = 1.9 kHz</tspan></text>
<text x="578" y="344.5" font-size="12.5">f<tspan dy="6" font-size="10.5">rep2</tspan><tspan dy="-6"> = 3.5 kHz</tspan></text>
</svg>
</body></html>
